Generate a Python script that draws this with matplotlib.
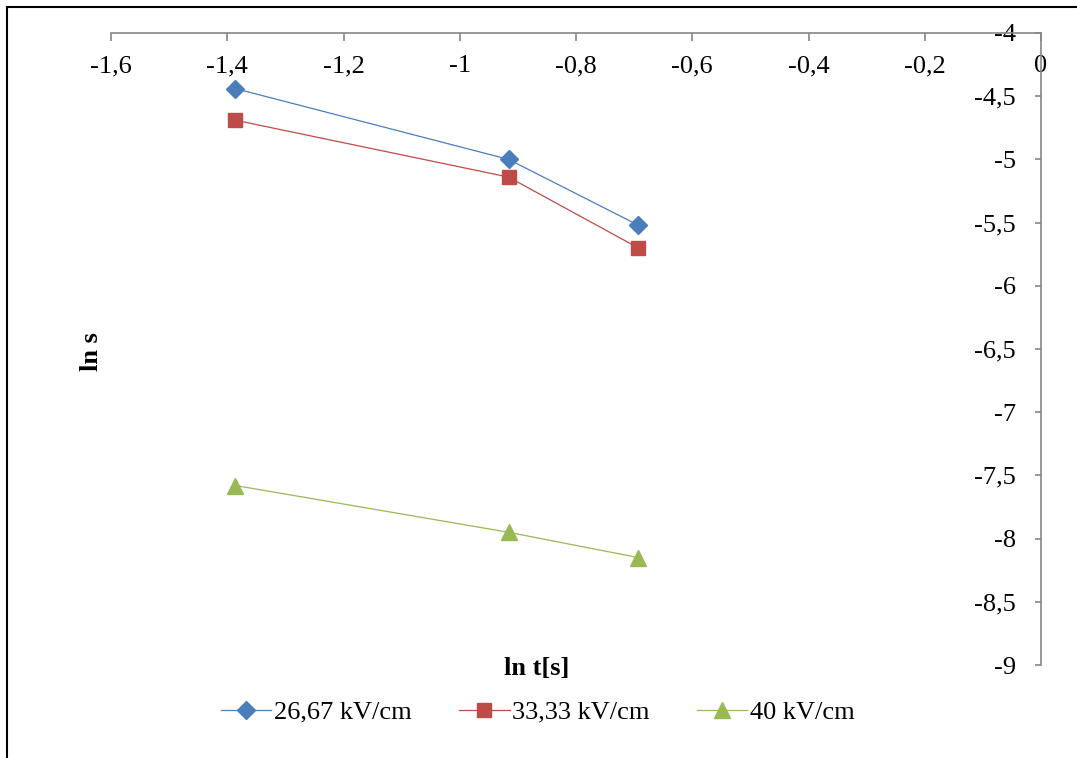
import matplotlib.pyplot as plt
from matplotlib.patches import Rectangle
from matplotlib.ticker import FuncFormatter, MultipleLocator

plt.rcParams['font.family'] = ['Liberation Serif', 'DejaVu Serif']

# ln t for t = 0.25, 0.4, 0.5 s
ln_t = [-1.386, -0.916, -0.693]
ln_s_2667 = [-4.44, -5.00, -5.52]
ln_s_3333 = [-4.69, -5.14, -5.70]
ln_s_40 = [-7.58, -7.95, -8.15]
series_labels = ['26,67 kV/cm', '33,33 kV/cm', '40 kV/cm']

W, H = 1077, 758
fig = plt.figure(figsize=(W / 100, H / 100), dpi=100)

# outer chart frame (left and top edges visible)
fig.patches.append(Rectangle((7 / W, -0.1), 1.2, 1 - 7 / H + 0.1,
                             transform=fig.transFigure, fill=False,
                             edgecolor='black', linewidth=1.5))

ax = fig.add_axes([111 / W, 1 - 665 / H, (1041 - 111) / W, (665 - 33) / H])

ax.plot(ln_t, ln_s_2667, color='#4A7EBB', lw=0.9, marker='D', ms=9,
        label=series_labels[0])
ax.plot(ln_t, ln_s_3333, color='#BE4B48', lw=0.9, marker='s', ms=10,
        label=series_labels[1])
ax.plot(ln_t, ln_s_40, color='#98B954', lw=0.9, marker='^', ms=11.5,
        label=series_labels[2])

ax.set_xlim(-1.6, 0)
ax.set_ylim(-9, -4)

axis_grey = '#868686'
for side in ('top', 'right'):
    ax.spines[side].set_visible(False)
ax.spines['bottom'].set_position(('data', -4))
ax.spines['left'].set_position(('data', 0))
for side in ('bottom', 'left'):
    ax.spines[side].set_color(axis_grey)
    ax.spines[side].set_linewidth(1.2)

comma = FuncFormatter(lambda v, _: f'{v:g}'.replace('.', ','))
ax.xaxis.set_major_locator(MultipleLocator(0.2))
ax.yaxis.set_major_locator(MultipleLocator(0.5))
ax.xaxis.set_major_formatter(comma)
ax.yaxis.set_major_formatter(comma)
ax.tick_params(axis='both', direction='out', width=1.2, color=axis_grey,
               labelsize=19)
ax.tick_params(axis='x', length=6, pad=10)
ax.tick_params(axis='y', length=4, pad=14)

fig.text(92 / W, 1 - 352 / H, 'ln s', rotation=90, ha='center', va='center',
         fontsize=19, fontweight='bold')
fig.text(537 / W, 1 - 668 / H, 'ln t[s]', ha='center', va='center',
         fontsize=19, fontweight='bold')

fig.legend(loc='center', bbox_to_anchor=(538 / W, 1 - 712 / H), ncol=3,
           frameon=False, fontsize=19, handlelength=1.9, handletextpad=0.1,
           columnspacing=1.8)

fig.savefig('out.png', dpi=100)
